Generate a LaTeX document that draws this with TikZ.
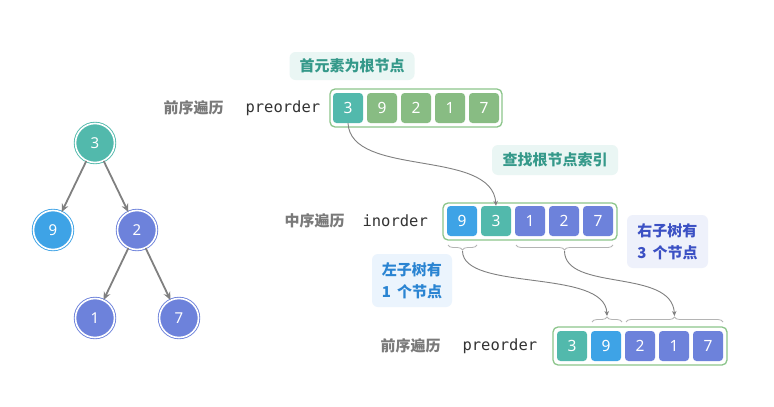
\documentclass[tikz,border=0pt]{standalone}
\usepackage{fontspec}
\usetikzlibrary{arrows.meta,decorations.pathreplacing}
\newfontfamily\cjk{Noto Sans CJK SC}
\newfontfamily\mono{DejaVu Sans Mono}
\newfontfamily\digitfont{Noto Sans}

\definecolor{teal}{HTML}{52B9AC}
\definecolor{leaf}{HTML}{88BC83}
\definecolor{sky}{HTML}{3EA3E6}
\definecolor{iris}{HTML}{6D82DB}
\definecolor{frame}{HTML}{8CC58B}
\definecolor{link}{HTML}{808080}
\definecolor{bracec}{HTML}{B4B4B4}
\definecolor{tealtext}{HTML}{35998A}
\definecolor{tealbg}{HTML}{EAF6F4}
\definecolor{bluetext}{HTML}{2A84D2}
\definecolor{bluebg}{HTML}{EBF4FD}
\definecolor{iristext}{HTML}{3B50C4}
\definecolor{irisbg}{HTML}{EEF1FB}
\definecolor{labelgray}{HTML}{7A7A7A}

\tikzset{
  treenode/.style={circle, minimum size=39pt, inner sep=0pt, fill=#1, draw=#1,
    double=white, double distance=1.6pt, line width=0.9pt,
    text=white, font=\digitfont\fontsize{15}{15}\selectfont},
  cell/.style={rectangle, rounded corners=3.5pt, minimum width=30pt, minimum height=30pt,
    inner sep=0pt, fill=#1, text=white, font=\digitfont\fontsize{15.5}{15.5}\selectfont},
  arrframe/.style={draw=frame, line width=1.3pt, rounded corners=5pt},
  treeedge/.style={draw=link, line width=1.8pt, -{Stealth[length=8pt,width=7pt]}},
  curvelink/.style={draw=link, line width=0.9pt, -{Stealth[length=5pt,width=4.5pt]}},
  bracket/.style={draw=bracec, line width=0.8pt,
    decorate, decoration={brace, amplitude=5pt}},
  rowname/.style={anchor=west, text=labelgray, font=\cjk\bfseries\fontsize{15}{15}\selectfont},
  codename/.style={anchor=west, text=black!80, font=\mono\fontsize{15.5}{15.5}\selectfont},
  note/.style={rounded corners=6pt, inner sep=0pt, font=\cjk\bfseries\fontsize{15}{22}\selectfont, align=left},
}

\begin{document}
\begin{tikzpicture}[x=1pt, y=-1pt]
\useasboundingbox (0,0) rectangle (774,407);
\fill[white] (0,0) rectangle (774,407);

% binary tree
\node[treenode=teal] (t3) at (95,143) {3};
\node[treenode=sky]  (t9) at (53,230) {9};
\node[treenode=iris] (t2) at (137,230) {2};
\node[treenode=iris] (t1) at (95,318) {1};
\node[treenode=iris] (t7) at (179,318) {7};
\draw[treeedge] (t3) -- (t9);
\draw[treeedge] (t3) -- (t2);
\draw[treeedge] (t2) -- (t1);
\draw[treeedge] (t2) -- (t7);

% preorder (top)
\node[note, fill=tealbg, text=tealtext, minimum width=125pt, minimum height=28pt] (rootnote) at (352,66) {首元素为根节点};
\node[rowname] (preA) at (160,108) {前序遍历};
\node[codename] (preAc) at (242,108) {preorder};
\draw[arrframe] (330,89) rectangle (502,127);
\node[cell=teal] (a1) at (348,108) {3};
\node[cell=leaf] (a2) at (382,108) {9};
\node[cell=leaf] (a3) at (416,108) {2};
\node[cell=leaf] (a4) at (450,108) {1};
\node[cell=leaf] (a5) at (484,108) {7};

% inorder
\node[note, fill=tealbg, text=tealtext, minimum width=126pt, minimum height=30pt] (findnote) at (555,160) {查找根节点索引};
\node[rowname] (inB) at (281,221) {中序遍历};
\node[codename] (inBc) at (359,221) {inorder};
\draw[arrframe] (443,203) rectangle (617,240);
\node[cell=sky]  (b1) at (462,221) {9};
\node[cell=teal] (b2) at (496,221) {3};
\node[cell=iris] (b3) at (530,221) {1};
\node[cell=iris] (b4) at (564,221) {2};
\node[cell=iris] (b5) at (598,221) {7};

\draw[curvelink] (a1.south) .. controls (351,178) and (492,148) .. (b2.north);

% subtree sizes
\node[note, fill=bluebg, text=bluetext, minimum width=80pt, minimum height=53pt] (leftnote) at (412,280.5) {左子树有\\1\, 个节点};
\node[note, fill=irisbg, text=iristext, minimum width=81pt, minimum height=53pt] (rightnote) at (667.5,241.5) {右子树有\\3\, 个节点};

\draw[bracket] (477,245) -- (448,245);
\draw[bracket] (613,245) -- (516,245);
\coordinate (ltip) at (462.5,251);
\coordinate (rtip) at (564.5,251);

% preorder (bottom)
\node[rowname] (preC) at (377,346) {前序遍历};
\node[codename] (preCc) at (459,346) {preorder};
\draw[arrframe] (553,327) rectangle (727,365);
\node[cell=teal] (c1) at (572,346) {3};
\node[cell=sky]  (c2) at (606,346) {9};
\node[cell=iris] (c3) at (640,346) {2};
\node[cell=iris] (c4) at (674,346) {1};
\node[cell=iris] (c5) at (708,346) {7};

\draw[bracket] (592,322) -- (622,322);
\draw[bracket] (626,322) -- (723,322);
\coordinate (lland) at (607,316);
\coordinate (rland) at (674.5,316);

\draw[curvelink] (ltip) .. controls (463,292) and (605,268) .. (lland);
\draw[curvelink] (rtip) .. controls (565,292) and (672,268) .. (rland);
\end{tikzpicture}
\end{document}
